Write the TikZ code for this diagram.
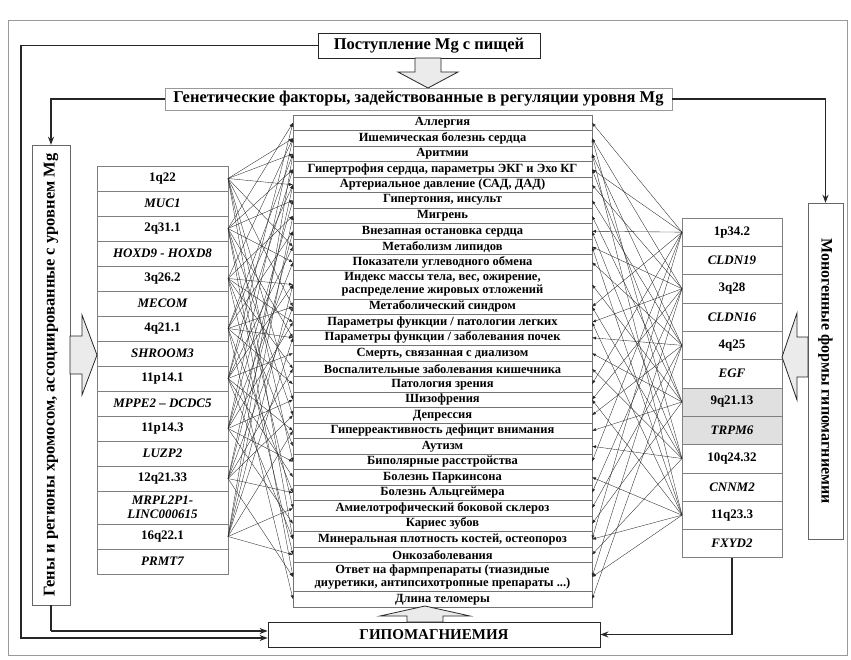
\documentclass[tikz,border=0pt]{standalone}
\usepackage{fontspec}
\setmainfont{Liberation Serif}
\usetikzlibrary{positioning,arrows.meta}

\begin{document}
\begin{tikzpicture}
	[x=1pt,y=-1pt,>={Latex[length=4pt,width=3pt]},
	flowbox/.style={draw=black!85,thick,fill=white,font=\bfseries\fontsize{16.5}{18}\selectfont,inner sep=0pt},
	item/.style={draw=black!55,fill=white,minimum width=299pt,minimum height=15.5pt,inner sep=0pt,outer sep=0pt,font=\bfseries\fontsize{12.5}{13}\selectfont},
	gene/.style={draw=black!50,fill=white,minimum width=131pt,minimum height=25pt,inner sep=0pt,outer sep=0pt,font=\bfseries\fontsize{13}{14}\selectfont},
	genei/.style={gene,font=\bfseries\itshape\fontsize{13}{14}\selectfont},
	rgene/.style={gene,minimum width=100pt,minimum height=28.3pt},
	rgenei/.style={genei,minimum width=100pt,minimum height=28.3pt},
	side/.style={draw=black!60,fill=white,font=\bfseries\fontsize{16.5}{18}\selectfont,inner sep=0pt},
	flow/.style={draw=black!85,line width=1.4pt,-{Stealth[length=8pt,width=6pt]}},
	fat/.style={draw=black!85,thick,fill=black!8,line join=miter},
	link/.style={->,black!85,line width=0.35pt}]
    \useasboundingbox (0,0) rectangle (851,660);
    \draw[black!40] (8,20) rectangle (847,655);
    % top boxes
    \node[flowbox,minimum width=222pt,minimum height=25pt] (P) at (429,45.5) {Поступление Mg с пищей};
    \node[flowbox,draw=black!40,minimum width=507pt,minimum height=22pt] (G) at (418.5,99) {Генетические факторы, задействованные в регуляции уровня Mg};
    \node[flowbox,minimum width=332pt,minimum height=25pt,font=\bfseries\fontsize{15}{17}\selectfont] (H) at (434,634.5) {ГИПОМАГНИЕМИЯ};
    % side labels
    \node[side,rotate=90,minimum width=460pt,minimum height=38pt] (LL) at (51,375) {Гены и регионы хромосом, ассоциированные с уровнем Mg};
    \node[side,rotate=-90,minimum width=336pt,minimum height=35pt,font=\bfseries\fontsize{16}{18}\selectfont] (RL) at (825.5,371) {Моногенные формы гипомагниемии};
    % phenotypes
    \node[item] (D1) at (442.5,122.75) {Аллергия};
    \node[item,below=0pt of D1] (D2) {Ишемическая болезнь сердца};
    \node[item,below=0pt of D2] (D3) {Аритмии};
    \node[item,below=0pt of D3] (D4) {Гипертрофия сердца, параметры ЭКГ и Эхо КГ};
    \node[item,below=0pt of D4] (D5) {Артериальное давление (САД, ДАД)};
    \node[item,below=0pt of D5] (D6) {Гипертония, инсульт};
    \node[item,below=0pt of D6] (D7) {Мигрень};
    \node[item,below=0pt of D7] (D8) {Внезапная остановка сердца};
    \node[item,below=0pt of D8] (D9) {Метаболизм липидов};
    \node[item,below=0pt of D9] (D10) {Показатели углеводного обмена};
    \node[item,below=0pt of D10,minimum height=29pt,align=center] (D11) {Индекс массы тела, вес, ожирение,\\распределение жировых отложений};
    \node[item,below=0pt of D11] (D12) {Метаболический синдром};
    \node[item,below=0pt of D12] (D13) {Параметры функции / патологии легких};
    \node[item,below=0pt of D13] (D14) {Параметры функции / заболевания почек};
    \node[item,below=0pt of D14] (D15) {Смерть, связанная с диализом};
    \node[item,below=0pt of D15] (D16) {Воспалительные заболевания кишечника};
    \node[item,below=0pt of D16] (D17) {Патология зрения};
    \node[item,below=0pt of D17] (D18) {Шизофрения};
    \node[item,below=0pt of D18] (D19) {Депрессия};
    \node[item,below=0pt of D19] (D20) {Гиперреактивность дефицит внимания};
    \node[item,below=0pt of D20] (D21) {Аутизм};
    \node[item,below=0pt of D21] (D22) {Биполярные расстройства};
    \node[item,below=0pt of D22] (D23) {Болезнь Паркинсона};
    \node[item,below=0pt of D23] (D24) {Болезнь Альцгеймера};
    \node[item,below=0pt of D24] (D25) {Амиелотрофический боковой склероз};
    \node[item,below=0pt of D25] (D26) {Кариес зубов};
    \node[item,below=0pt of D26] (D27) {Минеральная плотность костей, остеопороз};
    \node[item,below=0pt of D27] (D28) {Онкозаболевания};
    \node[item,below=0pt of D28,minimum height=29pt,align=center] (D29) {Ответ на фармпрепараты (тиазидные\\диуретики, антипсихотропные препараты ...)};
    \node[item,below=0pt of D29] (D30) {Длина теломеры};
    % left genes
    \node[gene] (L1) at (162.5,178.5) {1q22};
    \node[genei,below=0pt of L1] (L2) {MUC1};
    \node[gene,below=0pt of L2] (L3) {2q31.1};
    \node[genei,below=0pt of L3] (L4) {HOXD9 - HOXD8};
    \node[gene,below=0pt of L4] (L5) {3q26.2};
    \node[genei,below=0pt of L5] (L6) {MECOM};
    \node[gene,below=0pt of L6] (L7) {4q21.1};
    \node[genei,below=0pt of L7] (L8) {SHROOM3};
    \node[gene,below=0pt of L8] (L9) {11p14.1};
    \node[genei,below=0pt of L9] (L10) {MPPE2 – DCDC5};
    \node[gene,below=0pt of L10] (L11) {11p14.3};
    \node[genei,below=0pt of L11] (L12) {LUZP2};
    \node[gene,below=0pt of L12] (L13) {12q21.33};
    \node[genei,below=0pt of L13,minimum height=33pt,align=center] (L14) {MRPL2P1-\\LINC000615};
    \node[gene,below=0pt of L14] (L15) {16q22.1};
    \node[genei,below=0pt of L15] (L16) {PRMT7};
    % right genes
    \node[rgene] (R1) at (732,232.15) {1p34.2};
    \node[rgenei,below=0pt of R1] (R2) {CLDN19};
    \node[rgene,below=0pt of R2] (R3) {3q28};
    \node[rgenei,below=0pt of R3] (R4) {CLDN16};
    \node[rgene,below=0pt of R4] (R5) {4q25};
    \node[rgenei,below=0pt of R5] (R6) {EGF};
    \node[rgene,fill=black!12,below=0pt of R6] (R7) {9q21.13};
    \node[rgenei,fill=black!12,below=0pt of R7] (R8) {TRPM6};
    \node[rgene,below=0pt of R8] (R9) {10q24.32};
    \node[rgenei,below=0pt of R9] (R10) {CNNM2};
    \node[rgene,below=0pt of R10] (R11) {11q23.3};
    \node[rgenei,below=0pt of R11] (R12) {FXYD2};
    % associations
    \foreach \s/\ts in {1/{2,3,5,9,12,18,22,27},3/{1,4,6,10,14,19,25,29},5/{2,7,11,13,16,21,28},
        7/{3,5,8,12,14,17,24,30},9/{1,4,9,11,15,20,23,27},11/{2,6,10,13,18,22,26},
        13/{5,8,12,16,19,24,29},15/{3,7,11,14,20,25,28}}
        \foreach \t in \ts
            \draw[link] (L\s.east) -- (D\t.west);
    \foreach \s/\ts in {1/{1,4,8,12,17,22,27},3/{2,5,9,13,18,24,29},5/{3,6,10,14,19,25,30},
        7/{4,7,11,15,20,26},9/{2,8,12,16,21,28},11/{3,9,13,18,23,27,29}}
        \foreach \t in \ts
            \draw[link] (R\s.west) -- (D\t.east);
    % flow lines
    \coordinate (outL) at (21,638);
    \coordinate (inL) at (51,631);
    \draw[flow] (P.west) -| (outL) -- (outL -| H.west);
    \draw[flow] (G.west) -| (LL.east);
    \draw[flow,-] (LL.west) -- (inL);
    \draw[flow] (inL) -- (inL -| H.west);
    \draw[flow] (G.east) -| (RL.west);
    \draw[flow] (R12.south) |- (H.east);
    % block arrows
    \draw[fat] (415,58) -- (441,58) -- (441,72) -- (458,72) -- (428,88) -- (398,72) -- (415,72) -- cycle;
    \draw[fat] (70,336) -- (82,336) -- (82,315) -- (97,355) -- (82,395) -- (82,374) -- (70,374) -- cycle;
    \draw[fat] (808,337) -- (797,337) -- (797,313) -- (782,357) -- (797,400) -- (797,377) -- (808,377) -- cycle;
    \draw[fat] (407,622) -- (407,616) -- (380,616) -- (425,606) -- (470,616) -- (443,616) -- (443,622) -- cycle;
\end{tikzpicture}
\end{document}
